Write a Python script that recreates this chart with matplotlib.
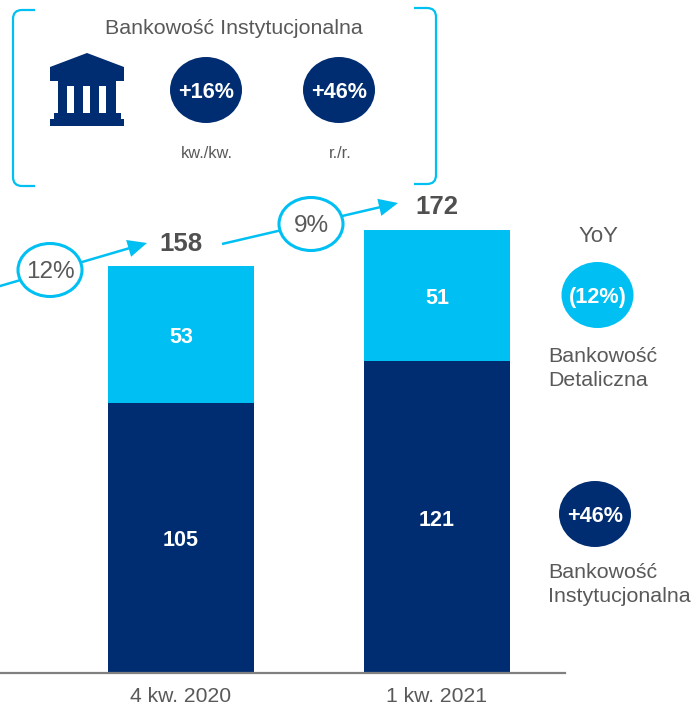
import matplotlib
matplotlib.use("Agg")
import matplotlib.pyplot as plt
from matplotlib.patches import Ellipse, Polygon, Rectangle, PathPatch
from matplotlib.path import Path

plt.rcParams['font.family'] = ['Liberation Sans', 'DejaVu Sans']

categories = ['4 kw. 2020', '1 kw. 2021']
institutional = [105, 121]
retail = [53, 51]
totals = [158, 172]
growth_labels = ['12%', '9%']

DARK = '#002D72'
LIGHT = '#00C0F3'
GRAY = '#58595B'
W, H = 694, 709

fig = plt.figure(figsize=(W / 100, H / 100), dpi=100, facecolor='white')

# Chart axes: baseline at pixel y=673, right end at pixel x=565
ax = fig.add_axes([0, (H - 673) / H, 565 / W, 673 / H])
px_per_cat = 256
x0 = 181
ax.set_xlim(-x0 / px_per_cat, (565 - x0) / px_per_cat)
ax.set_ylim(0, 673 / 2.575)
xs = range(len(categories))
bw = 146 / px_per_cat
ax.bar(xs, institutional, width=bw, color=DARK, zorder=2)
ax.bar(xs, retail, width=bw, bottom=institutional, color=LIGHT, zorder=2)
for i in xs:
    ax.annotate(str(institutional[i]), (i, institutional[i] / 2), xytext=(0, -2.2), textcoords='offset points',
                ha='center', va='center', color='white', fontsize=15.5, fontweight='bold', zorder=3)
    ax.annotate(str(retail[i]), (i, institutional[i] + retail[i] / 2), xytext=(0, -2.2), textcoords='offset points',
                ha='center', va='center', color='white', fontsize=15.5, fontweight='bold', zorder=3)
for s in ['top', 'left', 'right']:
    ax.spines[s].set_visible(False)
ax.spines['bottom'].set_color('#808080')
ax.spines['bottom'].set_linewidth(1.6)
ax.set_yticks([])
ax.set_xticks(list(xs))
ax.set_xticklabels(categories, fontsize=15.2, color=GRAY)
ax.tick_params(axis='x', length=0, pad=10)

# Overlay in pixel coordinates
ov = fig.add_axes([0, 0, 1, 1], facecolor='none')
ov.set_xlim(0, W)
ov.set_ylim(H, 0)
ov.axis('off')


def txt(x, y, s, size, color=GRAY, weight='normal', ha='center'):
    ov.text(x, y + 2, s, fontsize=size, color=color, fontweight=weight, ha=ha, va='center', zorder=6)


def bracket(xe, xc, top, bot, r=9):
    s = 1 if xc > xe else -1
    verts = [(xc, top), (xe + s * r, top), (xe, top), (xe, top + r), (xe, bot - r), (xe, bot),
             (xe + s * r, bot), (xc, bot)]
    codes = [Path.MOVETO, Path.LINETO, Path.CURVE3, Path.CURVE3, Path.LINETO, Path.CURVE3,
             Path.CURVE3, Path.LINETO]
    ov.add_patch(PathPatch(Path(verts, codes), fill=False, ec=LIGHT, lw=1.6))


bracket(13, 35, 10, 186)
bracket(436, 414, 8, 184)
txt(233.5, 26, 'Bankowość Instytucjonalna', 15.4)

# Bank icon
ov.add_patch(Polygon([(50, 67), (87, 53), (124, 67), (124, 81), (50, 81)], fc=DARK, ec='none'))
ov.add_patch(Rectangle((58, 81), 58, 32, fc=DARK, ec='none'))
for cx in (67, 83, 99):
    ov.add_patch(Rectangle((cx, 86), 7, 27, fc='white', ec='none', zorder=3))
ov.add_patch(Rectangle((54, 113), 67, 6, fc=DARK, ec='none', zorder=4))
ov.add_patch(Rectangle((50, 119), 74, 7, fc=DARK, ec='none', zorder=4))


def badge(cx, cy, s, color, rx=36, ry=33):
    ov.add_patch(Ellipse((cx, cy), 2 * rx, 2 * ry, fc=color, ec='none', zorder=5))
    txt(cx, cy, s, 15.6, 'white', 'bold')


badge(206, 90, '+16%', DARK)
badge(339, 90, '+46%', DARK)
txt(207, 152, 'kw./kw.', 11.8)
txt(340, 152, 'r./r.', 11.8)

# Growth arrows
for (a, b) in [((-5, 287.5), (147, 243)), ((222, 244), (398, 203))]:
    ov.annotate('', xy=b, xytext=a, xycoords='data', textcoords='data', zorder=3,
                arrowprops=dict(arrowstyle='simple,tail_width=0.15,head_width=1.05,head_length=1.15',
                                fc=LIGHT, ec='none', lw=0, shrinkA=0, shrinkB=0, mutation_scale=12))
for (cx, cy), s in zip([(50, 270), (311, 224)], growth_labels):
    ov.add_patch(Ellipse((cx, cy), 64, 53, fc='white', ec=LIGHT, lw=2.2, zorder=5))
    txt(cx, cy, s, 17.5)

txt(181, 242, str(totals[0]), 18.5, '#505050', 'bold')
txt(437, 205, str(totals[1]), 18.5, '#505050', 'bold')

# Right legend
txt(598.5, 235, 'YoY', 16)
badge(597.5, 295, '(12%)', LIGHT, 36, 33)
badge(595, 514, '+46%', DARK, 36, 33)
txt(548.5, 354, 'Bankowość', 15.4, ha='left')
txt(548.5, 379, 'Detaliczna', 15.4, ha='left')
txt(548, 570, 'Bankowość', 15.4, ha='left')
txt(548, 595, 'Instytucjonalna', 15.4, ha='left')

fig.savefig('out.png', dpi=100, facecolor='white')
